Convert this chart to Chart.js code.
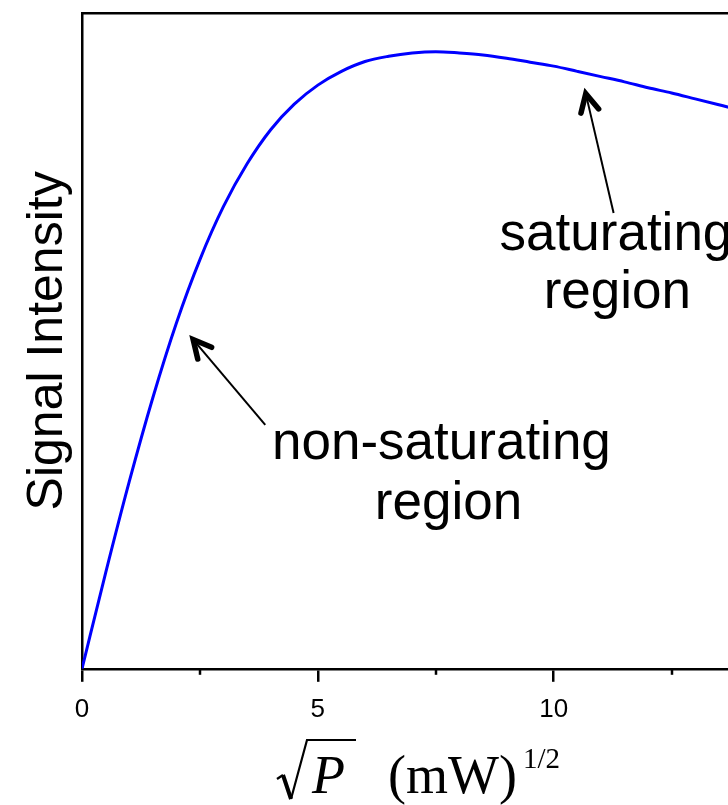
<!DOCTYPE html>
<html>
<head>
<meta charset="utf-8">
<script src="https://cdn.jsdelivr.net/npm/chart.js@4.4.1/dist/chart.umd.min.js"></script>
<style>
  html, body { margin: 0; padding: 0; background: #ffffff; overflow: hidden; }
  canvas { display: block; }
</style>
</head>
<body>
<canvas id="c" width="816" height="805"></canvas>
<script>
// Square root of microwave power, (mW)^1/2
const sqrtPower = [0, 0.5, 1, 1.5, 2, 2.5, 3, 3.5, 4, 4.5, 5, 5.5, 6, 6.5, 7, 7.5,
  8, 8.5, 9, 9.5, 10, 10.5, 11, 11.5, 12, 12.5, 13, 13.5, 14, 14.5, 15];
// Signal intensity (arbitrary units)
const intensity = [0, 14.6, 28.5, 41.3, 52.7, 62.4, 70.5, 77.0, 82.2, 86.1, 89.0, 91.1,
  92.6, 93.4, 93.9, 94.1, 93.9, 93.6, 93.1, 92.5, 91.9, 91.1, 90.3, 89.5, 88.6, 87.8,
  86.9, 86.0, 85.1, 84.3, 83.4];
// Axis ticks
const majorTicks = [0, 5, 10, 15];
const minorTicks = [2.5, 7.5, 12.5];
// Region labels and arrows
const regionLabels = ["non-saturating", "region", "saturating", "region"];

const SANS = '"Liberation Sans", Arial, sans-serif';
const SERIF = '"Liberation Serif", "Times New Roman", serif';

const labelPlacement = [
  { x: 7.62, y: 32.0 },
  { x: 7.77, y: 22.9 },
  { x: 11.32, y: 63.9 },
  { x: 11.35, y: 55.0 }
];
const arrowPlacement = [
  { from: { x: 3.885, y: 37.2 }, to: { x: 2.357, y: 50.2 } },
  { from: { x: 11.27, y: 69.5 }, to: { x: 10.68, y: 87.7 } }
];

const annotations = {
  id: 'annotations',
  afterDatasetsDraw(chart) {
    const ctx = chart.ctx;
    const xs = chart.scales.x, ys = chart.scales.y;
    ctx.save();
    // minor ticks on the bottom axis
    ctx.strokeStyle = '#000';
    ctx.lineWidth = 2.5;
    const yb = chart.chartArea.bottom;
    minorTicks.forEach(v => {
      const px = Math.round(xs.getPixelForValue(v));
      ctx.beginPath();
      ctx.moveTo(px, yb);
      ctx.lineTo(px, yb + 6);
      ctx.stroke();
    });

    // arrows
    arrowPlacement.forEach(a => {
      const x1 = xs.getPixelForValue(a.from.x), y1 = ys.getPixelForValue(a.from.y);
      const x2 = xs.getPixelForValue(a.to.x), y2 = ys.getPixelForValue(a.to.y);
      const ang = Math.atan2(y1 - y2, x1 - x2);
      ctx.strokeStyle = '#000';
      ctx.lineWidth = 2;
      ctx.lineCap = 'butt';
      ctx.beginPath();
      ctx.moveTo(x1, y1);
      ctx.lineTo(x2 + 2 * Math.cos(ang), y2 + 2 * Math.sin(ang));
      ctx.stroke();
      const len = 20, spread = 27 * Math.PI / 180;
      ctx.lineWidth = 5.5;
      ctx.lineCap = 'round';
      ctx.lineJoin = 'miter';
      ctx.beginPath();
      ctx.moveTo(x2 + len * Math.cos(ang - spread), y2 + len * Math.sin(ang - spread));
      ctx.lineTo(x2, y2);
      ctx.lineTo(x2 + len * Math.cos(ang + spread), y2 + len * Math.sin(ang + spread));
      ctx.stroke();
    });

    // region labels
    ctx.fillStyle = '#000';
    ctx.font = '53px ' + SANS;
    ctx.textAlign = 'center';
    ctx.textBaseline = 'alphabetic';
    regionLabels.forEach((t, i) => {
      const p = labelPlacement[i];
      ctx.fillText(t, xs.getPixelForValue(p.x), ys.getPixelForValue(p.y));
    });
    ctx.restore();
  },
  afterDraw(chart) {
    // x-axis title: sqrt(P)  (mW)^(1/2)
    const ctx = chart.ctx;
    const L = chart.chartArea.left;
    const base = 793;
    ctx.save();
    ctx.strokeStyle = '#000';
    ctx.fillStyle = '#000';
    ctx.lineJoin = 'miter';
    ctx.lineCap = 'butt';
    // radical sign
    ctx.lineWidth = 2.2;
    ctx.beginPath();
    ctx.moveTo(L + 195, 779);
    ctx.lineTo(L + 201, 775);
    ctx.stroke();
    ctx.lineWidth = 4;
    ctx.beginPath();
    ctx.moveTo(L + 201, 775);
    ctx.lineTo(L + 209, 799);
    ctx.stroke();
    ctx.lineWidth = 2.2;
    ctx.beginPath();
    ctx.moveTo(L + 209, 799);
    ctx.lineTo(L + 225, 740);
    ctx.lineTo(L + 274, 740);
    ctx.stroke();
    ctx.textBaseline = 'alphabetic';
    ctx.textAlign = 'left';
    ctx.font = 'italic 54px ' + SERIF;
    ctx.fillText('P', L + 230, base);
    ctx.font = '54px ' + SERIF;
    ctx.fillText('(mW)', L + 306, base);
    ctx.font = '29px ' + SERIF;
    ctx.fillText('1/2', L + 441, 768);
    ctx.restore();
  }
};

new Chart(document.getElementById('c'), {
  type: 'line',
  data: {
    datasets: [{
      data: sqrtPower.map((x, i) => ({ x: x, y: intensity[i] })),
      borderColor: '#0000ff',
      borderWidth: 3,
      pointRadius: 0,
      fill: false,
      cubicInterpolationMode: 'monotone'
    }]
  },
  options: {
    responsive: false,
    animation: false,
    devicePixelRatio: 1,
    layout: { padding: { top: 13, right: 20, bottom: 68, left: 0 } },
    plugins: { legend: { display: false }, tooltip: { enabled: false } },
    scales: {
      x: {
        type: 'linear',
        position: 'bottom',
        min: 0,
        max: 15,
        afterBuildTicks: s => { s.ticks = majorTicks.map(v => ({ value: v })); },
        ticks: {
          color: '#000',
          font: { family: SANS, size: 26 },
          padding: 12,
          maxRotation: 0,
          callback: v => String(v)
        },
        grid: {
          display: true,
          drawOnChartArea: false,
          drawTicks: true,
          tickLength: 13,
          tickColor: '#000',
          tickWidth: 2.5,
          color: '#000',
          lineWidth: 2.5
        },
        border: { display: true, color: '#000', width: 2.5 }
      },
      xTop: {
        type: 'linear',
        position: 'top',
        min: 0,
        max: 15,
        ticks: { display: false },
        grid: { display: false, drawTicks: false },
        border: { display: true, color: '#000', width: 2.5 }
      },
      y: {
        type: 'linear',
        min: 0,
        max: 100,
        ticks: { display: false },
        grid: { display: false, drawTicks: false },
        border: { display: true, color: '#000', width: 2.5 },
        title: {
          display: true,
          text: 'Signal Intensity',
          color: '#000',
          font: { family: SANS, size: 50, lineHeight: 1.2 },
          padding: { top: 18, bottom: 4 }
        }
      }
    }
  },
  plugins: [annotations]
});
</script>
</body>
</html>
